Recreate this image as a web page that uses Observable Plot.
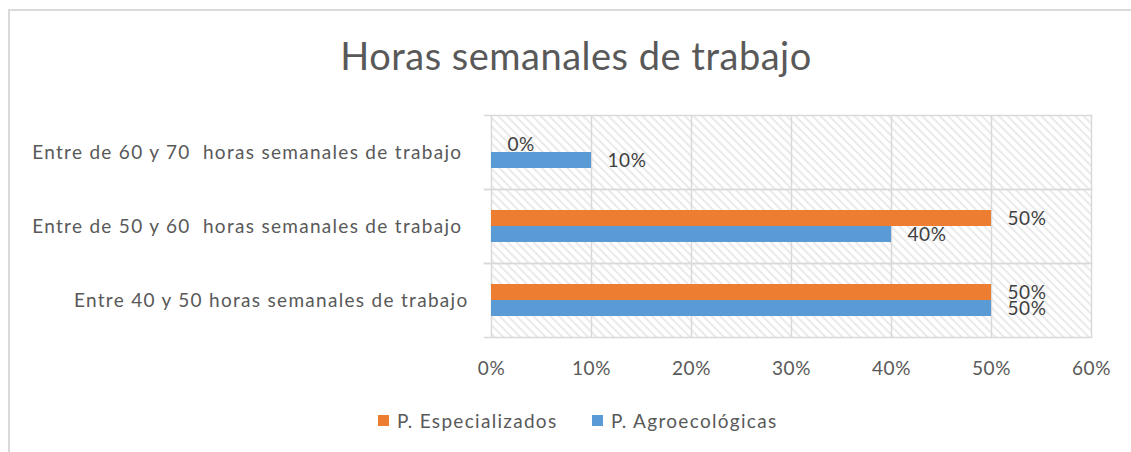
<!DOCTYPE html>
<html>
<head>
<meta charset="utf-8">
<script src="https://cdn.jsdelivr.net/npm/d3@7"></script>
<script src="https://cdn.jsdelivr.net/npm/@observablehq/plot@0.6"></script>
<style>
  body { margin: 0; background: #fff; font-family: Lato, "Open Sans", sans-serif; }
  #wrap { position: relative; width: 1131px; height: 452px; overflow: hidden; }
  #border { position: absolute; left: 8px; top: 9px; width: 1200px; height: 600px; border: 2px solid #d9d9d9; box-sizing: border-box; }
  #title { position: absolute; left: 0; width: 1152px; top: 32px; text-align: center; font-size: 38px; letter-spacing: 0.5px; color: #595959; }
  #chart { position: absolute; left: 0; top: 100px; }
  #chart svg text { white-space: pre; }
  #chart g[aria-description="category"] text { letter-spacing: 1.3px; }
  #chart g[aria-description="values"] text { letter-spacing: 0.6px; }
  #chart g[aria-label="x-axis tick label"] text { letter-spacing: 0.6px; }
  .leg { position: absolute; top: 409px; font-size: 19px; letter-spacing: 1.3px; color: #595959; display: flex; align-items: center; }
  .leg span.sw { display: inline-block; width: 11px; height: 11px; margin-right: 8px; }
</style>
</head>
<body>
<svg width="0" height="0" style="position:absolute">
  <defs>
    <pattern id="hatch" patternUnits="userSpaceOnUse" width="6" height="6" patternTransform="rotate(45)">
      <rect width="6" height="6" fill="#ffffff"></rect>
      <line x1="0" y1="1" x2="6" y2="1" stroke="#d6d6d6" stroke-width="1"></line>
    </pattern>
  </defs>
</svg>
<div id="wrap">
  <div id="border"></div>
  <div id="title">Horas semanales de trabajo</div>
  <div id="chart"></div>
  <div id="legend"></div>
</div>
<script>
const categories = [
  "Entre de 60 y 70  horas semanales de trabajo ",
  "Entre de 50 y 60  horas semanales de trabajo ",
  "Entre 40 y 50 horas semanales de trabajo"
];
const series = ["P. Especializados", "P. Agroecológicas"];
const especializados = [0, 0.5, 0.5];
const agroecologicas = [0.1, 0.4, 0.5];
const xTicks = [0, 0.1, 0.2, 0.3, 0.4, 0.5, 0.6];
const colors = ["#ED7D31", "#5B9BD5"];

const data = [];
categories.forEach((c, i) => {
  data.push({category: c, series: series[0], value: especializados[i]});
  data.push({category: c, series: series[1], value: agroecologicas[i]});
});

const pct = d => Math.round(d * 100) + "%";
const grid = "#d9d9d9";

const chart = Plot.plot({
  width: 1131,
  height: 287,
  marginLeft: 491,
  marginRight: 40,
  marginTop: 15,
  marginBottom: 50,
  style: {fontFamily: "Lato, 'Open Sans', sans-serif", background: "transparent"},
  x: {domain: [0, 0.6], label: null},
  y: {domain: series, paddingInner: 0, paddingOuter: 1.24, axis: null},
  fy: {domain: categories, padding: 0, axis: null},
  color: {domain: series, range: colors},
  marks: [
    Plot.frame({fill: "url(#hatch)"}),
    Plot.ruleX(xTicks, {stroke: grid, strokeWidth: 1.5}),
    Plot.frame({anchor: "top", stroke: grid, strokeWidth: 1.5, insetLeft: -7}),
    Plot.frame({anchor: "bottom", stroke: grid, strokeWidth: 1.5, insetLeft: -7}),
    Plot.barX(data, {x: "value", y: "series", fy: "category", fill: "series"}),
    Plot.text(data, {x: "value", y: "series", fy: "category", text: d => pct(d.value), dx: 16, textAnchor: "start", fontSize: 19, fill: "#404040", ariaDescription: "values"}),
    Plot.text(categories, {fy: d => d, frameAnchor: "left", dx: -23, textAnchor: "end", text: d => d, fontSize: 19, fill: "#595959", ariaDescription: "category"}),
    Plot.axisX({ticks: xTicks, tickFormat: pct, tickSize: 0, tickPadding: 24, fontSize: 19, fill: "#595959", label: null, facetAnchor: "bottom"})
  ]
});
document.getElementById("chart").appendChild(chart);

const legend = document.getElementById("legend");
const legLeft = [378, 592];
series.forEach((s, i) => {
  const d = document.createElement("div");
  d.className = "leg";
  d.style.left = legLeft[i] + "px";
  d.innerHTML = `<span class="sw" style="background:${colors[i]}"></span><span>${s}</span>`;
  legend.appendChild(d);
});
</script>
</body>
</html>
